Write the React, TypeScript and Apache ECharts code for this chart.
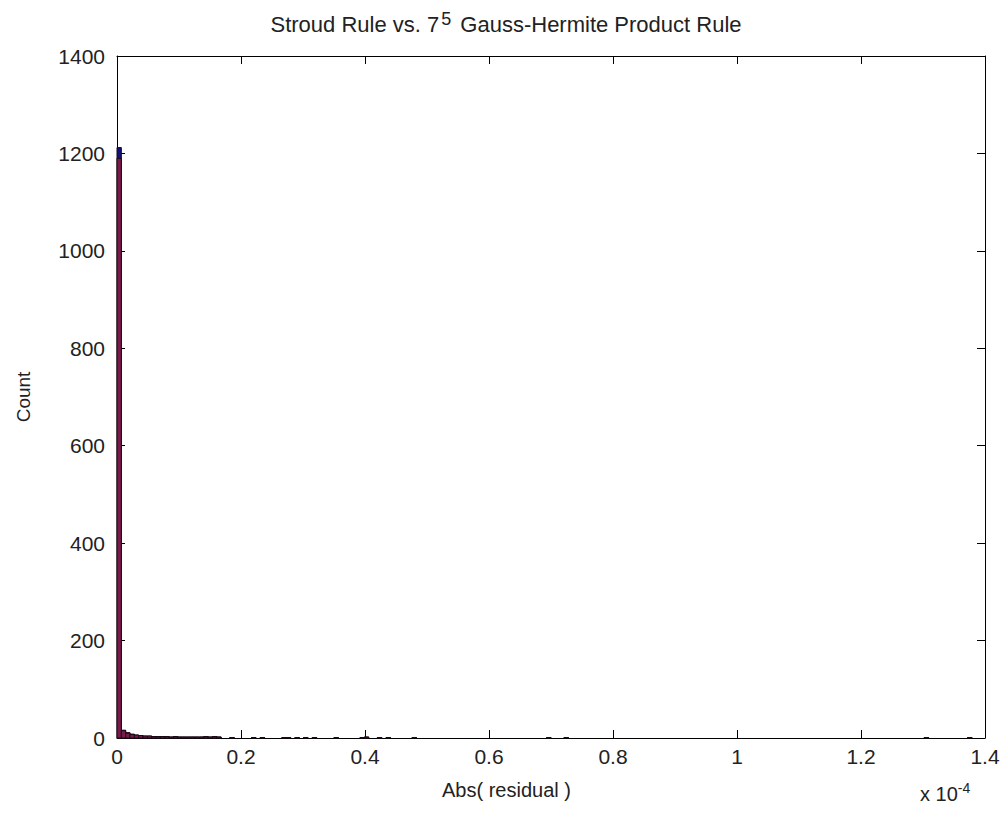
import React, { useEffect, useRef } from "react";
import * as echarts from "echarts";

const BIN_WIDTH = 0.007; // in units of 1e-4
const xTicks = [0, 0.2, 0.4, 0.6, 0.8, 1, 1.2, 1.4];
const yTicks = [0, 200, 400, 600, 800, 1000, 1200, 1400];

const binIndex = [0, 1, 2, 3, 4, 5, 6, 7, 8, 9, 10, 11, 12, 13, 14, 15, 16, 17, 18, 19, 20, 21, 22, 23, 26, 31, 33, 38, 39, 41, 43, 45, 50, 56, 57, 60, 62, 68, 99, 103, 186, 196];
const blueCounts = [1212, 16, 11, 8, 6, 5, 4, 4, 3, 3, 3, 3, 2, 3, 2, 2, 2, 2, 2, 2, 3, 2, 3, 2, 1, 1, 1, 1, 1, 1, 1, 1, 1, 1, 2, 1, 1, 1, 1, 1, 1, 1];
const redCounts = [1190, 15, 10, 7, 6, 5, 4, 4, 3, 3, 3, 3, 2, 3, 2, 2, 2, 2, 2, 2, 3, 2, 3, 2, 1, 1, 1, 1, 1, 1, 1, 1, 1, 1, 2, 1, 1, 1, 1, 1, 1, 1];

const FONT = "'Liberation Sans', Arial, sans-serif";

function makeSeries(counts: number[], fill: string, z: number) {
  return {
    type: "custom",
    xAxisIndex: 0,
    yAxisIndex: 0,
    z,
    data: binIndex.map((b, i) => [b, counts[i]]),
    renderItem: (_params: any, api: any) => {
      const b = api.value(0);
      const c = api.value(1);
      const p0 = api.coord([b * BIN_WIDTH, c]);
      const p1 = api.coord([(b + 1) * BIN_WIDTH, 0]);
      return {
        type: "rect",
        shape: { x: p0[0], y: p0[1], width: p1[0] - p0[0], height: p1[1] - p0[1] },
        style: { fill, stroke: "#1a0a14", lineWidth: 1 },
      };
    },
  };
}

export default function App() {
  const ref = useRef<HTMLDivElement>(null);
  useEffect(() => {
    if (!ref.current) return;
    const chart = echarts.init(ref.current, null, { renderer: "svg" });
    const axisCommon = {
      type: "value",
      min: 0,
      axisLine: { show: true, onZero: false, lineStyle: { color: "#000", width: 1 } },
      axisTick: { show: true, inside: true, length: 8, lineStyle: { color: "#000", width: 1 } },
      splitLine: { show: false },
    };
    chart.setOption({
      animation: false,
      backgroundColor: "#fff",
      title: {
        text: "Stroud Rule vs. 7{sup|5} Gauss-Hermite Product Rule",
        left: 501,
        textAlign: "center",
        top: 5,
        textStyle: {
          fontFamily: FONT,
          fontSize: 22,
          fontWeight: "normal",
          color: "#222",
          rich: {
            sup: { fontFamily: FONT, fontSize: 18, color: "#222", verticalAlign: "top", padding: [0, 3, 10, 2] },
          },
        },
      },
      grid: { left: 117, right: 22, top: 56, bottom: 76 },
      xAxis: [
        {
          ...axisCommon,
          position: "bottom",
          max: 1.4,
          interval: 0.2,
          axisLabel: { show: true, color: "#222", fontFamily: FONT, fontSize: 21, margin: 8, formatter: (v: number) => String(parseFloat(v.toFixed(1))) },
        },
        {
          ...axisCommon,
          position: "top",
          max: 1.4,
          interval: 0.2,
          axisLabel: { show: false },
        },
      ],
      yAxis: [
        {
          ...axisCommon,
          position: "left",
          max: 1400,
          interval: 200,
          axisLabel: { show: true, color: "#222", fontFamily: FONT, fontSize: 21, margin: 12, formatter: (v: number) => String(v) },
          name: "Count",
          nameLocation: "middle",
          nameGap: 84,
          nameTextStyle: { color: "#222", fontFamily: FONT, fontSize: 19 },
        },
        {
          ...axisCommon,
          position: "right",
          max: 1400,
          interval: 200,
          axisLabel: { show: false },
        },
      ],
      graphic: [
        {
          type: "text",
          left: 442,
          top: 780,
          style: {
            text: "Abs( residual )",
            fontFamily: FONT,
            fontSize: 20,
            fill: "#222",
          },
        },
        {
          type: "text",
          left: 920,
          top: 781,
          style: {
            text: "x 10{sup|-4}",
            fontFamily: FONT,
            fontSize: 20,
            fill: "#222",
            rich: {
              sup: { fontFamily: FONT, fontSize: 14, fill: "#222", verticalAlign: "top", padding: [0, 0, 12, 0] },
            },
          },
        },
      ],
      series: [makeSeries(blueCounts, "#12127e", 2), makeSeries(redCounts, "#7a1a4a", 3)],
    });
    return () => chart.dispose();
  }, []);
  return <div ref={ref} style={{ position: "fixed", left: 0, top: 0, width: 1007, height: 814 }} />;
}
